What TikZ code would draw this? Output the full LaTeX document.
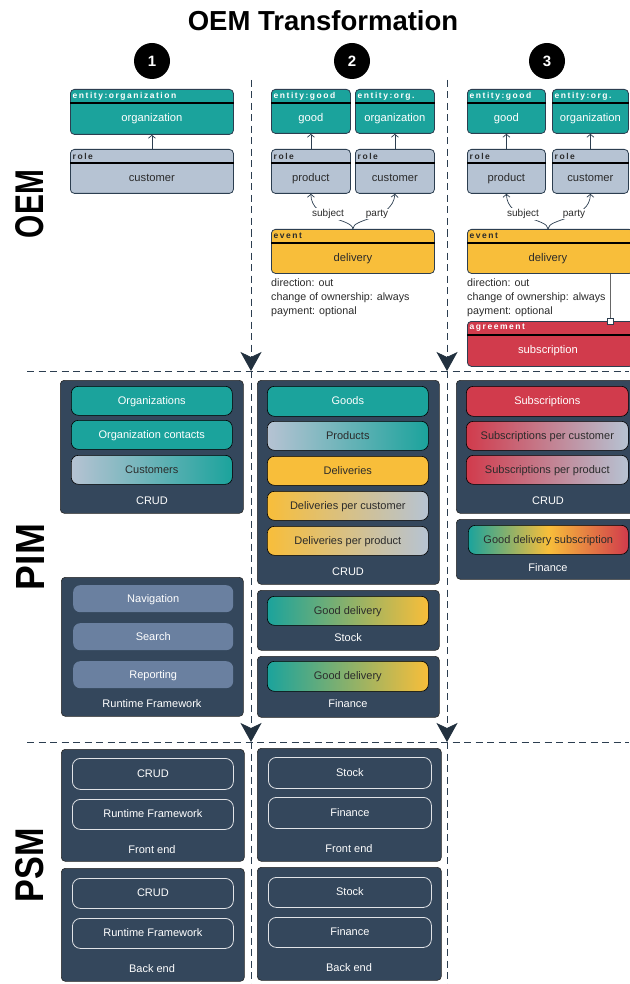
\documentclass[tikz,border=0pt]{standalone}
\usepackage{fontspec}
\setmainfont{Liberation Sans}
\usetikzlibrary{arrows.meta,shapes.geometric}
\definecolor{teal1}{HTML}{1BA39C}
\definecolor{steel}{HTML}{B6C3D3}
\definecolor{yel}{HTML}{F8BE3A}
\definecolor{redx}{HTML}{D13B4C}
\definecolor{navy}{HTML}{34475C}
\definecolor{slate}{HTML}{6A80A0}
\definecolor{ink}{HTML}{2B2B2B}
\definecolor{linec}{HTML}{2C3E50}
\definecolor{arrowc}{HTML}{22313F}
\tikzset{
  clsbox/.style={draw=linec, line width=0.8pt, rounded corners=4pt, inner sep=0pt, anchor=north west},
  hdrtext/.style={font=\bfseries\fontsize{8.5}{9}\selectfont\addfontfeatures{LetterSpace=18}, inner sep=0pt},
  bodytext/.style={font=\fontsize{11.2}{13}\selectfont, inner sep=0pt},
  rel/.style={draw=linec, line width=0.7pt, -{Straight Barb[length=3pt,width=7pt]}},
  lbl/.style={font=\fontsize{10}{12}\selectfont, text=ink, fill=white, inner sep=1pt},
  note/.style={font=\fontsize{10.7}{14}\selectfont, text=ink, align=left, inner sep=0pt, anchor=north west},
  pbox/.style={draw=black!85, fill=navy, rounded corners=4pt, line width=0.6pt, anchor=north west, inner sep=0pt},
  ibox/.style={draw=black, rounded corners=7pt, line width=0.6pt, anchor=north west, inner sep=0pt, font=\fontsize{11}{12}\selectfont, text=ink, text height=8pt, text depth=1pt},
  sbox/.style={fill=slate, rounded corners=7pt, anchor=north west, inner sep=0pt, font=\fontsize{11}{12}\selectfont, text=white, text height=8pt, text depth=1pt},
  obox/.style={draw=white!85!navy, rounded corners=8pt, line width=0.8pt, anchor=north west, inner sep=0pt, font=\fontsize{11}{12}\selectfont, text=white, text height=8pt, text depth=1pt},
  plabel/.style={font=\fontsize{11}{12}\selectfont, text=white, inner sep=0pt},
  vdash/.style={draw=linec, line width=0.8pt, dash pattern=on 7pt off 4.5pt},
  tipd/.style={-{Stealth[length=19pt,width=21pt,inset=5pt,fill=arrowc,color=arrowc]}},
  numc/.style={circle, fill=black, minimum size=36pt, inner sep=0pt, text=white, font=\bfseries\fontsize{15}{16}\selectfont},
  side/.style={rotate=90, inner sep=0pt}
}
\newcommand{\oemcls}[9]{%
  \node[clsbox, fill=#6, minimum width=#4pt, minimum height=#5pt] (#1) at (#2,#3) {};
  \draw[line width=1.2pt, black] ([yshift=-14pt]#1.north west) -- ([yshift=-14pt]#1.north east);
  \node[hdrtext, text=#8, anchor=west] (#1h) at ([xshift=2.5pt,yshift=-7pt]#1.north west) {#7};
  \node[bodytext, text=#8] (#1b) at ([yshift=-7pt]#1.center) {#9};
}
\begin{document}
\begin{tikzpicture}[x=1pt,y=-1pt]
\useasboundingbox (0,0) rectangle (629,984);
\fill[white] (0,0) rectangle (629,984);

% title and numbers
\node[font=\bfseries\fontsize{27.5}{30}\selectfont] (title) at (323,21) {OEM Transformation};
\node[numc] (n1) at (152,61) {1};
\node[numc] (n2) at (352,61) {2};
\node[numc] (n3) at (547,61) {3};

% side labels
\node[side] (lOEM) at (30,204) {\resizebox{68pt}{28pt}{\bfseries OEM}};
\node[side] (lPIM) at (30,557) {\resizebox{66pt}{28pt}{\bfseries PIM}};
\node[side] (lPSM) at (30,865) {\resizebox{74pt}{28pt}{\bfseries PSM}};

% dashed separators
\coordinate (v1a) at (251,80);  \coordinate (v1b) at (251,371);
\coordinate (v1c) at (251,742); \coordinate (v1d) at (251,984);
\coordinate (v2a) at (447,80);  \coordinate (v2b) at (447,371);
\coordinate (v2c) at (447,742); \coordinate (v2d) at (447,984);
\coordinate (h1a) at (27,371);  \coordinate (h1b) at (629,371);
\coordinate (h2a) at (27,742);  \coordinate (h2b) at (629,742);
\draw[vdash] (h1a) -- (h1b);
\draw[vdash] (h2a) -- (h2b);
\draw[vdash,tipd] (v1a) -- (v1b);
\draw[vdash,tipd] (v1b) -- (v1c);
\draw[vdash] (v1c) -- (v1d);
\draw[vdash,tipd] (v2a) -- (v2b);
\draw[vdash,tipd] (v2b) -- (v2c);
\draw[vdash] (v2c) -- (v2d);

% ---------- OEM column 1
\oemcls{org1}{70}{89}{163}{45}{teal1}{entity:organization}{white}{organization}
\oemcls{cus1}{70}{149}{163}{44}{steel}{role}{ink}{customer}
\draw[rel] (cus1.north) -- (org1.south);

% ---------- OEM column 2
\oemcls{good2}{271}{89}{79}{44}{teal1}{entity:good}{white}{good}
\oemcls{org2}{355}{89}{79}{44}{teal1}{entity:org.}{white}{organization}
\oemcls{prod2}{271}{149}{79}{44}{steel}{role}{ink}{product}
\oemcls{cus2}{355}{149}{79}{44}{steel}{role}{ink}{customer}
\oemcls{del2}{271}{229}{163}{44}{yel}{event}{ink}{delivery}
\draw[rel] (prod2.north) -- (good2.south);
\draw[rel] (cus2.north) -- (org2.south);
\draw[rel] (del2.north) .. controls (352,218) and (311,220) .. (prod2.south);
\draw[rel] (del2.north) .. controls (352,218) and (393,220) .. (cus2.south);
\node[lbl] (subj2) at (328,214) {subject};
\node[lbl] (party2) at (377,214) {party};
\node[note] (txt2) at (271,279) {direction: out\\change of ownership: always\\payment: optional};

% ---------- OEM column 3
\oemcls{good3}{467}{89}{78}{44}{teal1}{entity:good}{white}{good}
\oemcls{org3}{552}{89}{76}{44}{teal1}{entity:org.}{white}{organization}
\oemcls{prod3}{467}{149}{78}{44}{steel}{role}{ink}{product}
\oemcls{cus3}{552}{149}{76}{44}{steel}{role}{ink}{customer}
\node[clsbox, fill=yel, minimum width=166pt, minimum height=44pt] (del3) at (467,229) {};
\draw[line width=1.2pt, black] ([yshift=-14pt]del3.north west) -- ([yshift=-14pt]del3.north east);
\node[hdrtext, text=ink, anchor=west] (del3h) at ([xshift=2.5pt,yshift=-7pt]del3.north west) {event};
\node[bodytext, text=ink] (del3b) at (548,259) {delivery};
\draw[rel] (del3b |- del3.north) .. controls (548,218) and (507,220) .. (prod3.south);
\draw[rel] (del3b |- del3.north) .. controls (548,218) and (590,220) .. (cus3.south);
\draw[rel] (prod3.north) -- (good3.south);
\draw[rel] (cus3.north) -- (org3.south);
\node[lbl] (subj3) at (523,214) {subject};
\node[lbl] (party3) at (574,214) {party};
\node[note] (txt3) at (467,279) {direction: out\\change of ownership: always\\payment: optional};
\node[clsbox, fill=redx, minimum width=166pt, minimum height=45pt] (sub3) at (467,321) {};
\draw[line width=1.2pt, black] ([yshift=-14pt]sub3.north west) -- ([yshift=-14pt]sub3.north east);
\node[hdrtext, text=white, anchor=west] (sub3h) at ([xshift=2.5pt,yshift=-7pt]sub3.north west) {agreement};
\node[bodytext, text=white] (sub3b) at (548,351) {subscription};
\node[draw=linec, fill=white, minimum size=6pt, inner sep=0pt, line width=0.7pt] (sq3) at (610,321) {};
\draw[draw=gray!80!black, line width=0.8pt] (sq3.north |- del3.south) -- (sq3.north);

% ---------- PIM column 1
\node[pbox, minimum width=183pt, minimum height=133pt] (crud1) at (60,380) {};
\node[ibox, fill=teal1, text=white, minimum width=161pt, minimum height=29pt] (orgs1) at (71,386) {Organizations};
\node[ibox, fill=teal1, text=white, minimum width=161pt, minimum height=29pt] (orgc1) at (71,420) {Organization contacts};
\node[ibox, left color=steel, right color=teal1, minimum width=161pt, minimum height=29pt] (cust1) at (71,455) {Customers};
\node[plabel] (crud1l) at (152,501) {CRUD};

\node[pbox, minimum width=182pt, minimum height=139pt] (rt1) at (61,577) {};
\node[sbox, minimum width=160pt, minimum height=27pt] (nav1) at (73,585) {Navigation};
\node[sbox, minimum width=160pt, minimum height=27pt] (srch1) at (73,623) {Search};
\node[sbox, minimum width=160pt, minimum height=27pt] (rep1) at (73,661) {Reporting};
\node[plabel] (rt1l) at (152,704) {Runtime Framework};

% ---------- PIM column 2
\node[pbox, minimum width=182pt, minimum height=204pt] (crud2) at (257,380) {};
\node[ibox, fill=teal1, text=white, minimum width=161pt, minimum height=30pt] (goods2) at (267,386) {Goods};
\node[ibox, left color=steel, right color=teal1, minimum width=161pt, minimum height=29pt] (prods2) at (267,421) {Products};
\node[ibox, fill=yel, minimum width=161pt, minimum height=29pt] (dels2) at (267,456) {Deliveries};
\node[ibox, left color=yel, right color=steel, minimum width=161pt, minimum height=29pt] (dpc2) at (267,491) {Deliveries per customer};
\node[ibox, left color=yel, right color=steel, minimum width=161pt, minimum height=29pt] (dpp2) at (267,526) {Deliveries per product};
\node[plabel] (crud2l) at (348,572) {CRUD};

\node[pbox, minimum width=182pt, minimum height=60pt] (stk2) at (257,590) {};
\node[ibox, left color=teal1, right color=yel, minimum width=161pt, minimum height=29pt] (gd2s) at (267,596) {Good delivery};
\node[plabel] (stk2l) at (348,638) {Stock};

\node[pbox, minimum width=182pt, minimum height=61pt] (fin2) at (257,656) {};
\node[ibox, left color=teal1, right color=yel, minimum width=161pt, minimum height=30pt] (gd2f) at (267,661) {Good delivery};
\node[plabel] (fin2l) at (348,704) {Finance};

% ---------- PIM column 3
\node[pbox, minimum width=180pt, minimum height=133pt] (crud3) at (456,380) {};
\node[ibox, fill=redx, text=white, minimum width=162pt, minimum height=30pt] (subs3) at (466,386) {Subscriptions};
\node[ibox, left color=redx, right color=steel, minimum width=162pt, minimum height=29pt] (spc3) at (466,421) {Subscriptions per customer};
\node[ibox, left color=redx, right color=steel, minimum width=162pt, minimum height=29pt] (spp3) at (466,455) {Subscriptions per product};
\node[plabel] (crud3l) at (548,501) {CRUD};

\node[pbox, minimum width=180pt, minimum height=60pt] (fin3) at (456,519) {};
\node[ibox, left color=teal1, right color=redx, middle color=yel, minimum width=160pt, minimum height=29pt] (gds3) at (468,525) {Good delivery subscription};
\node[plabel] (fin3l) at (548,568) {Finance};

% ---------- PSM column 1
\node[pbox, minimum width=183pt, minimum height=112pt] (fe1) at (61,749) {};
\node[obox, minimum width=161pt, minimum height=31pt] (fe1c) at (72,758) {CRUD};
\node[obox, minimum width=161pt, minimum height=30pt] (fe1r) at (72,799) {Runtime Framework};
\node[plabel] (fe1l) at (152,850) {Front end};

\node[pbox, minimum width=183pt, minimum height=113pt] (be1) at (61,868) {};
\node[obox, minimum width=161pt, minimum height=30pt] (be1c) at (72,878) {CRUD};
\node[obox, minimum width=161pt, minimum height=30pt] (be1r) at (72,918) {Runtime Framework};
\node[plabel] (be1l) at (152,969) {Back end};

% ---------- PSM column 2
\node[pbox, minimum width=184pt, minimum height=113pt] (fe2) at (257,748) {};
\node[obox, minimum width=163pt, minimum height=31pt] (fe2s) at (268,757) {Stock};
\node[obox, minimum width=163pt, minimum height=31pt] (fe2f) at (268,797) {Finance};
\node[plabel] (fe2l) at (349,849) {Front end};

\node[pbox, minimum width=184pt, minimum height=113pt] (be2) at (257,867) {};
\node[obox, minimum width=163pt, minimum height=30pt] (be2s) at (268,877) {Stock};
\node[obox, minimum width=163pt, minimum height=30pt] (be2f) at (268,917) {Finance};
\node[plabel] (be2l) at (349,968) {Back end};
\end{tikzpicture}
\end{document}
